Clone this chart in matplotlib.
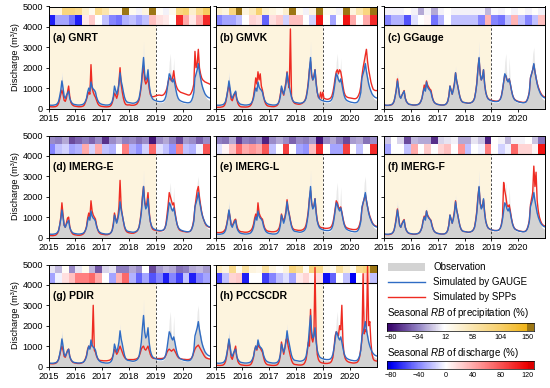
import numpy as np
import matplotlib
matplotlib.use('Agg')
import matplotlib.pyplot as plt
from matplotlib.colors import LinearSegmentedColormap, Normalize
from matplotlib.patches import Rectangle

plt.rcParams['font.family'] = ['Liberation Sans', 'DejaVu Sans']
plt.rcParams['mathtext.fontset'] = 'custom'
plt.rcParams['mathtext.rm'] = 'Liberation Sans'
plt.rcParams['mathtext.it'] = 'Liberation Sans:italic'

# ---------------- data (semi-monthly, 24 values per year, 2015-2020 + end) -------------
year_ticks = [2015, 2016, 2017, 2018, 2019, 2020]

obs = [150,140,135,130,140,150,170,200,280,400,700,1100,1600,1100,650,550,700,800,900,550,380,280,220,190,
       170,160,150,150,150,170,190,220,280,400,600,900,1050,900,1250,1100,1000,950,850,600,400,300,240,210,
       190,180,170,160,160,170,180,200,260,380,650,1000,850,700,900,1300,1700,1300,1050,750,500,380,300,270,
       250,240,230,220,220,240,260,300,380,520,800,1250,1900,2600,1700,1400,1500,1800,1200,750,550,420,380,350,
       320,300,290,280,280,290,300,330,420,600,950,1400,1750,1800,1500,1350,1500,1200,900,620,450,360,320,300,
       280,260,250,240,240,250,270,300,400,580,900,1300,1800,2100,2300,1900,1600,1300,1050,850,650,520,460,420,
       400]
obs_peak_idx = [12, 38, 64, 85, 89, 108, 109, 112, 133, 134]
obs_peak_val = [1800, 1500, 2100, 3300, 2200, 2300, 2700, 2500, 2700, 3000]

gauge = [180,170,160,160,160,170,180,200,250,350,600,900,1350,1000,600,500,650,750,850,500,350,270,220,200,
         190,180,170,170,170,180,190,210,260,350,500,800,1000,850,1300,1050,950,900,800,550,400,300,250,220,
         200,190,180,170,170,170,180,200,250,350,600,1100,900,700,900,1200,1750,1350,1100,800,550,400,330,300,
         290,280,270,260,260,270,290,320,380,500,800,1200,1900,2500,1700,1400,1500,1900,1200,800,600,480,430,400,
         380,360,350,340,340,340,350,380,450,600,900,1300,1700,1600,1400,1300,1450,1200,900,650,500,420,380,350,
         330,310,300,290,280,280,290,320,400,550,800,1500,1700,1900,2200,1800,1500,1200,1000,850,720,640,580,540,
         520]

spp = {}
spp['(a) GNRT'] = [
    100,90,85,80,80,85,90,110,150,250,450,700,900,700,400,350,500,800,1100,600,300,200,150,120,
    110,100,90,85,85,90,100,120,170,300,450,650,800,700,2150,1000,800,650,550,400,250,170,130,110,
    100,90,85,80,80,85,90,110,160,280,500,750,650,500,700,1300,2000,1200,800,500,300,200,180,170,
    180,170,160,160,160,170,190,220,300,420,700,1100,1700,2100,1400,1200,1300,1600,1000,700,600,580,580,600,
    620,640,650,660,650,640,650,680,750,850,1000,1300,1500,1450,1350,1500,1850,1400,1150,1000,900,850,800,780,
    760,740,720,700,680,660,660,700,800,950,1200,2800,2000,2200,2900,2000,1700,1500,1400,1350,1300,1280,1250,1230,
    1200]
spp['(b) GMVK'] = [
    60,60,55,55,60,70,80,100,150,280,550,900,1150,850,450,380,550,700,800,450,250,150,100,80,
    80,75,70,70,75,80,100,130,200,350,600,1000,1500,1200,1800,1400,1700,1100,900,600,350,220,150,120,
    110,100,95,90,90,100,120,150,220,380,700,1000,800,650,1000,1300,1800,1300,1000,3900,600,400,300,250,
    230,220,210,210,220,240,270,320,400,550,850,1300,1900,2300,1600,1400,1600,1900,1300,800,550,500,800,500,
    800,500,480,460,450,460,480,520,600,800,1100,1500,1800,1900,1700,1900,1800,1500,1100,800,650,580,550,530,
    520,510,500,490,480,480,500,550,650,800,1100,1600,2000,2300,2600,2900,2300,1900,1600,1300,1100,950,900,880,
    880]
spp['(c) GGauge'] = [
    170,160,150,150,150,160,170,190,240,350,600,950,1450,1000,600,520,650,760,880,520,350,270,220,200,
    190,180,170,170,170,180,190,210,260,360,520,850,1150,900,1350,1150,1050,950,900,620,400,300,250,220,
    200,190,180,170,170,170,180,200,250,360,620,1100,900,700,950,1250,1750,1350,1100,800,550,400,330,300,
    290,280,270,260,260,270,290,320,390,520,820,1250,1950,2450,1700,1400,1550,1900,1200,800,600,500,450,420,
    400,390,380,370,360,360,370,400,470,620,920,1300,1650,1600,1400,1350,1450,1200,900,660,520,440,400,370,
    350,330,320,310,300,300,310,330,420,570,820,1500,1700,1900,2150,1800,1500,1250,1050,900,780,680,620,580,
    560]
spp['(d) IMERG-E'] = [
    110,100,95,90,90,100,110,140,200,320,600,1000,1700,1100,600,500,700,950,1000,550,320,220,160,140,
    130,120,110,110,110,120,140,170,230,350,550,950,1200,950,1800,1300,1100,1000,900,600,380,260,200,170,
    160,150,140,135,135,140,160,190,250,380,700,1200,950,750,1000,1500,2800,1500,1100,800,500,350,280,250,
    230,220,210,210,210,230,260,300,380,520,850,1300,2000,2500,1800,1500,1700,2200,1300,800,550,420,380,360,
    350,340,330,320,320,330,340,370,450,650,1100,1600,2200,2000,1800,1600,1700,1300,950,650,480,380,340,320,
    300,290,280,270,270,280,290,320,420,600,900,1500,1900,2300,2500,2000,1600,1250,1000,850,700,600,550,520,
    500]
spp['(e) IMERG-L'] = [
    260,250,240,240,240,250,260,290,340,430,650,950,1300,1000,650,580,700,850,900,600,420,340,300,280,
    280,270,260,260,260,270,290,320,370,470,650,950,1150,950,1700,1200,1050,950,900,650,470,380,330,310,
    300,290,280,280,280,290,300,330,380,480,700,1150,950,800,1000,1300,1850,1400,1150,850,600,460,400,380,
    370,360,350,350,350,360,380,420,480,620,900,1300,1900,2300,1700,1450,1550,1900,1300,850,650,540,500,480,
    470,460,450,450,450,460,470,500,570,720,1000,1400,1800,1700,1500,1400,1500,1250,950,700,560,490,460,440,
    420,410,400,390,390,390,400,430,500,650,900,1400,1700,1900,2100,1800,1500,1250,1050,900,760,660,600,570,
    550]
spp['(f) IMERG-F'] = [
    160,150,145,140,140,150,160,190,250,360,620,1000,1400,1000,600,500,680,800,880,520,350,260,210,190,
    180,170,160,160,160,170,190,210,260,360,520,850,1050,900,1300,1100,1000,900,850,600,400,300,250,220,
    200,190,180,170,170,170,180,200,250,360,620,1100,900,700,950,1300,1800,1350,1100,800,550,400,330,300,
    290,280,270,260,260,270,290,320,390,520,850,1300,2000,2450,1700,1450,1600,1850,1250,800,600,480,430,400,
    380,360,350,340,340,340,350,380,460,650,1000,2700,2300,2000,1600,1500,1600,1300,950,680,520,430,390,360,
    340,320,310,300,290,290,300,330,420,580,850,1600,1900,2200,3500,2500,3200,1800,1300,1000,820,690,620,580,
    560]
spp['(g) PDIR'] = [
    150,140,135,130,130,140,150,180,240,350,550,800,1000,800,500,450,600,800,850,500,330,250,200,180,
    170,160,150,150,150,160,180,210,270,380,550,850,1000,900,1000,1100,3000,800,700,500,380,320,300,290,
    290,280,280,280,280,290,300,320,360,430,600,850,750,600,700,850,1000,850,700,550,450,380,350,340,
    340,340,340,340,340,350,360,380,420,500,650,850,950,1000,850,800,900,1000,800,600,480,420,400,390,
    390,390,390,390,390,390,400,410,450,550,700,800,850,800,750,800,850,750,650,530,450,400,380,370,
    360,350,350,340,340,340,350,370,420,520,700,850,950,1000,1050,950,850,750,650,550,470,420,400,380,
    370]
spp['(h) PCCSCDR'] = [
    70,60,55,50,50,55,60,80,130,250,500,900,1250,900,450,350,550,800,1000,500,250,150,100,80,
    70,60,55,50,50,55,60,80,130,250,450,800,1000,800,1100,950,900,800,700,450,250,150,100,80,
    70,60,55,50,50,55,60,80,130,250,550,1200,900,600,900,1300,1400,1000,750,500,300,180,120,100,
    90,80,75,70,70,75,90,120,200,350,700,1200,1000,2800,1400,1200,1500,4850,1500,600,350,250,200,180,
    170,160,150,150,150,160,170,200,280,450,900,1500,1700,1600,1500,2000,1800,3000,1200,600,400,300,250,220,
    200,190,180,170,170,180,190,220,300,500,900,1300,4550,1600,1800,1700,4900,2000,2200,1200,600,380,300,280,
    270]

# seasonal relative bias (%) heat-map rows: precipitation and discharge, 24 seasons
rb_precip = {
    '(a) GNRT':   [30,30,90,90,80,40,20,80,60,30,30,160,20,5,30,160,15,5,20,90,100,40,80,110],
    '(b) GMVK':   [40,30,90,160,30,50,100,40,30,20,40,160,20,5,30,160,20,20,5,160,30,60,90,160],
    '(c) GGauge': [5,5,5,15,5,-20,5,-20,5,12,5,5,5,5,5,-15,8,5,10,5,15,5,12,5],
    '(d) IMERG-E':[-30,-35,-20,-55,-45,-35,-45,-30,-65,-30,-20,-35,-30,-40,-30,-75,-30,-20,-35,-55,-25,-30,-45,-30],
    '(e) IMERG-L':[-35,-40,-20,-60,-35,-40,-30,-70,-30,-20,-30,-45,-30,-35,-25,-75,-30,-20,-35,-55,-25,-20,-40,-30],
    '(f) IMERG-F':[-10,10,-5,-55,-15,-20,-20,-65,-5,0,5,-20,-20,0,-10,-70,10,5,-15,5,5,10,-10,-40],
    '(g) PDIR':   [0,-15,15,-30,0,20,-15,-50,-5,0,-35,-35,-20,-30,10,-55,-25,-15,-20,-40,-35,-20,-15,-25],
    '(h) PCCSCDR':[50,30,80,20,70,30,25,70,30,15,30,90,70,20,90,80,30,20,70,40,20,80,90,160],
}
rb_discharge = {
    '(a) GNRT':   [-70,-30,-30,-45,-70,10,25,0,-20,-40,-45,-25,-20,-30,-20,30,15,10,0,100,40,10,40,100],
    '(b) GMVK':   [-40,-30,-30,-20,0,20,15,-50,15,25,-15,30,30,0,-15,110,0,-30,0,110,40,0,40,100],
    '(c) GGauge': [-40,-25,-25,-55,-10,0,5,-45,-25,0,-20,-20,-20,-20,-40,35,-40,-45,-20,35,-20,-40,-20,30],
    '(d) IMERG-E':[-40,-20,-15,-30,-25,40,-15,40,-20,-25,0,60,-25,-35,-15,70,-10,-20,-35,60,-20,-25,-5,80],
    '(e) IMERG-L':[-10,5,30,70,40,50,40,80,-20,0,90,0,-30,-35,30,100,0,-30,-30,90,0,-20,0,100],
    '(f) IMERG-F':[-30,0,0,-20,40,0,25,0,20,30,0,50,-20,0,-5,60,0,-15,-5,70,20,20,5,110],
    '(g) PDIR':   [-30,-5,15,30,60,60,70,40,0,-30,35,70,-25,-50,-30,-55,-40,-70,-40,-60,-20,-70,-40,-30],
    '(h) PCCSCDR':[-60,-20,20,25,-70,0,0,-60,-40,-20,-10,-30,10,20,5,15,-75,-50,0,-20,-80,0,20,-20],
}
precip_ticks = [-80, -34, 12, 58, 104, 150]
discharge_ticks = [-80, -40, 0, 40, 80, 120]

# ---------------- styling -------------
W, H = 550, 388
fig = plt.figure(figsize=(W / 100, H / 100), dpi=100)

c_blue = '#2f6cc4'
c_red = '#ee2b22'
c_obs = '#d3d3d3'
c_obs_hi = '#e9e9e9'
c_beige = '#fdf4de'

cmap_p = LinearSegmentedColormap.from_list('prec', [
    (0.0, '#3d0a70'), (0.2, '#9282c4'), (0.39, '#ffffff'),
    (0.6, '#fbe6b0'), (0.8, '#f8d06c'), (1.0, '#f1b416')])
cmap_p.set_over('#9c7614')
cmap_p.set_under('#3d0a70')
norm_p = Normalize(-80, 150)

cmap_q = LinearSegmentedColormap.from_list('dis', [
    (0.0, '#0000f5'), (0.2, '#8585ff'), (0.4, '#ffffff'),
    (0.7, '#ff8080'), (1.0, '#ee0000')])
cmap_q.set_over('#dd0000')
cmap_q.set_under('#0000dd')
norm_q = Normalize(-80, 120)

col_left = [48.5, 215.5, 384.0]
col_w = 161.0
row_top = [6.5, 135.5, 264.5]
row_h = 102.0

names = list(spp.keys())
hm_bot, hm_mid, hm_top = 4080, 4560, 5000

for i, name in enumerate(names):
    r, c = divmod(i, 3)
    rect = [col_left[c] / W, 1 - (row_top[r] + row_h) / H, col_w / W, row_h / H]
    ax = fig.add_axes(rect)
    t_obs = 2015 + np.arange(len(obs)) / 24
    obs_hi = np.array(obs, dtype=float)
    obs_hi[obs_peak_idx] = obs_peak_val
    ax.axvspan(2015, 2019, ymin=0, ymax=hm_bot / 5000, color=c_beige, lw=0, zorder=0.5)
    ax.fill_between(t_obs, 0, obs_hi, color=c_obs_hi, lw=0, zorder=1)
    ax.fill_between(t_obs, 0, obs, color=c_obs, lw=0, zorder=1.1)
    ax.plot([2019, 2019], [0, hm_bot], color='#444444', lw=0.7, ls=(0, (2.5, 2)), zorder=1.5)
    # heat-map rows
    xe = 2015 + np.arange(25) / 4
    ax.pcolormesh(xe, [hm_bot, hm_mid], np.array([rb_discharge[name]]), cmap=cmap_q, norm=norm_q,
                  zorder=2, lw=0, edgecolors='none')
    ax.pcolormesh(xe, [hm_mid, hm_top], np.array([rb_precip[name]]), cmap=cmap_p, norm=norm_p,
                  zorder=2, lw=0, edgecolors='none')
    ax.axhline(hm_bot, color='black', lw=0.8, zorder=2.5)
    s = spp[name]
    ax.plot(2015 + np.arange(len(s)) / 24, s, color=c_red, lw=1.0, zorder=3)
    ax.plot(2015 + np.arange(len(gauge)) / 24, gauge, color=c_blue, lw=1.0, zorder=3.5)
    ax.set_xlim(2015, 2021)
    ax.set_ylim(0, 5000)
    ax.set_xticks(year_ticks)
    ax.set_xticklabels([str(y) for y in year_ticks])
    ax.set_yticks([0, 1000, 2000, 3000, 4000, 5000])
    if c == 0:
        ax.set_ylabel('Discharge (m³/s)', fontsize=6.6, labelpad=2)
    else:
        ax.set_yticklabels([])
    ax.tick_params(direction='out', length=2.5, width=0.6, labelsize=6.6, pad=1.5)
    for sp in ax.spines.values():
        sp.set_linewidth(0.7)
        sp.set_zorder(4)
    ax.text(0.025, 0.69, name, transform=ax.transAxes, fontsize=7.5, fontweight='bold',
            va='center', ha='left', zorder=5)

# ---------------- legend area -------------
lax = fig.add_axes([380 / W, 0, 170 / W, 138 / H])
lax.set_xlim(380, 550)
lax.set_ylim(388, 250)
lax.axis('off')
lax.add_patch(Rectangle((388, 263), 37, 8, color=c_obs, lw=0))
lax.plot([388, 425], [282, 282], color=c_blue, lw=1.0)
lax.plot([388, 425], [297, 297], color=c_red, lw=1.0)
fs_leg = 7
lax.text(433, 267, 'Observation', fontsize=fs_leg, va='center', ha='left')
lax.text(433, 282, 'Simulated by GAUGE', fontsize=fs_leg, va='center', ha='left')
lax.text(433, 297, 'Simulated by SPPs', fontsize=fs_leg, va='center', ha='left')
lax.text(387, 313, r'Seasonal $\mathit{RB}$ of precipitation (%)', fontsize=fs_leg, va='center', ha='left')
lax.text(387, 353, r'Seasonal $\mathit{RB}$ of discharge (%)', fontsize=fs_leg, va='center', ha='left')


def draw_cbar(y0, y1, cmap, norm, lo, hi, ticks):
    cax = fig.add_axes([387 / W, 1 - y1 / H, (534 - 387) / W, (y1 - y0) / H])
    grad = np.linspace(lo, hi, 600)[None, :]
    cax.imshow(grad, extent=[lo, hi, 0, 1], aspect='auto', cmap=cmap, norm=norm, interpolation='nearest')
    cax.set_xlim(lo, hi)
    cax.set_yticks([])
    cax.set_xticks(ticks)
    cax.set_xticklabels([str(v).replace('-', '\u2212') for v in ticks])
    cax.tick_params(axis='x', length=0, labelsize=5.2, pad=2)
    for sp in cax.spines.values():
        sp.set_linewidth(0.5)


draw_cbar(323, 331, cmap_p, norm_p, -86, 161, precip_ticks)
draw_cbar(361, 369, cmap_q, norm_q, -86, 129, discharge_ticks)

fig.savefig('out.png', dpi=100)
